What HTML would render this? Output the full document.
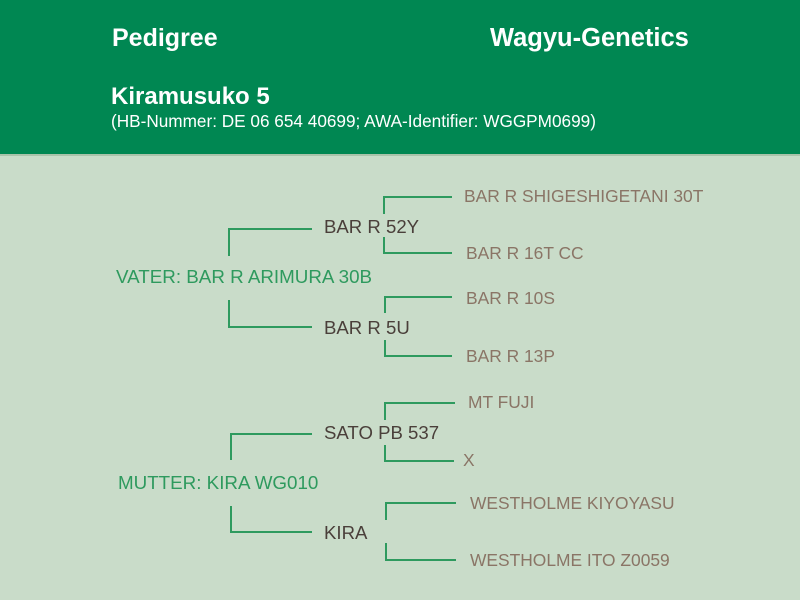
<!DOCTYPE html>
<html><head><meta charset="utf-8"><style>
html,body{margin:0;padding:0;}
body{width:800px;height:600px;background:#c9dcc9;position:relative;overflow:hidden;font-family:"Liberation Sans",Arial,sans-serif;}
#hdr{position:absolute;left:0;top:0;width:800px;height:154px;background:#008752;border-bottom:2px solid #a9c3aa;}
.t{position:absolute;white-space:nowrap;line-height:1;}
.w{color:#fff;font-weight:bold;}
.g{color:#2e9a5e;font-size:18.8px;}
.d{color:#4a3f3a;font-size:18.6px;}
.b{color:#8a7566;font-size:17.4px;}
svg{position:absolute;left:0;top:0;}
</style></head><body>
<div id="hdr"></div>
<div class="t w" style="left:112px;top:26px;font-size:25px;">Pedigree</div>
<div class="t w" style="left:490px;top:26px;font-size:25.5px;">Wagyu-Genetics</div>
<div class="t w" style="left:111px;top:85px;font-size:24px;">Kiramusuko 5</div>
<div class="t" style="left:111px;top:113px;font-size:17.2px;color:#fff;">(HB-Nummer: DE 06 654 40699; AWA-Identifier: WGGPM0699)</div>

<svg width="800" height="600" fill="none" stroke="#2e9a5e" stroke-width="2">
<path d="M229 256V229H312M229 300V327H312"/>
<path d="M384 214V197H452M384 237V253H452"/>
<path d="M385 313V297H452M385 340V356H452"/>
<path d="M231 460V434H312M231 506V532H312"/>
<path d="M385 420V403H455M385 445V461H454"/>
<path d="M386 520V503H456M386 543V560H456"/>
</svg>

<div class="t g" style="left:116px;top:268px;">VATER: BAR R ARIMURA 30B</div>
<div class="t d" style="left:324px;top:218px;">BAR R 52Y</div>
<div class="t d" style="left:324px;top:319px;">BAR R 5U</div>
<div class="t b" style="left:464px;top:188px;">BAR R SHIGESHIGETANI 30T</div>
<div class="t b" style="left:466px;top:245px;">BAR R 16T CC</div>
<div class="t b" style="left:466px;top:290px;">BAR R 10S</div>
<div class="t b" style="left:466px;top:348px;">BAR R 13P</div>

<div class="t g" style="left:118px;top:474px;">MUTTER: KIRA WG010</div>
<div class="t d" style="left:324px;top:424px;">SATO PB 537</div>
<div class="t d" style="left:324px;top:524px;">KIRA</div>
<div class="t b" style="left:468px;top:394px;">MT FUJI</div>
<div class="t b" style="left:463px;top:452px;">X</div>
<div class="t b" style="left:470px;top:495px;">WESTHOLME KIYOYASU</div>
<div class="t b" style="left:470px;top:552px;">WESTHOLME ITO Z0059</div>
</body></html>
